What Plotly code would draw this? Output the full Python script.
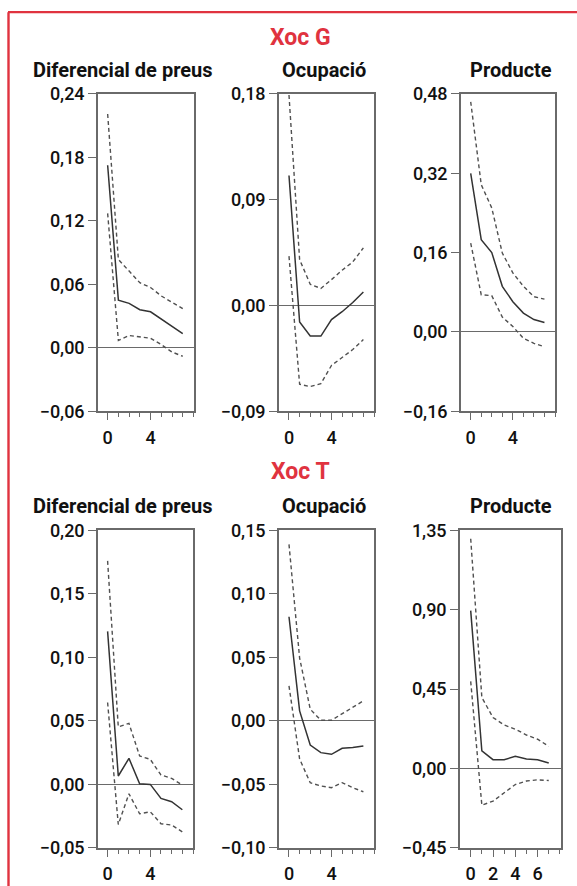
import plotly.graph_objects as go

# ---------------- data ----------------
horizon = [0, 1, 2, 3, 4, 5, 6, 7]

shock_titles = ["Xoc G", "Xoc T"]
panel_titles = ["Diferencial de preus", "Ocupació", "Producte"]

# Xoc G
g_preus_mid = [0.1725, 0.045, 0.042, 0.036, 0.034, 0.027, 0.020, 0.0135]
g_preus_hi = [0.221, 0.0835, 0.0725, 0.0615, 0.057, 0.049, 0.043, 0.037]
g_preus_lo = [0.127, 0.007, 0.0116, 0.010, 0.009, 0.003, -0.004, -0.008]

g_ocup_mid = [0.1105, -0.014, -0.026, -0.026, -0.012, -0.0053, 0.0025, 0.0115]
g_ocup_hi = [0.179, 0.039, 0.018, 0.0145, 0.022, 0.030, 0.037, 0.049]
g_ocup_lo = [0.042, -0.067, -0.069, -0.0665, -0.051, -0.044, -0.0375, -0.029]

g_prod_mid = [0.3195, 0.186, 0.160, 0.092, 0.061, 0.038, 0.025, 0.019]
g_prod_hi = [0.464, 0.297, 0.250, 0.159, 0.119, 0.092, 0.071, 0.066]
g_prod_lo = [0.179, 0.075, 0.073, 0.030, 0.011, -0.013, -0.023, -0.030]

# Xoc T
t_preus_mid = [0.1205, 0.0066, 0.0205, 0.0005, 0.0, -0.011, -0.0137, -0.020]
t_preus_hi = [0.176, 0.0453, 0.048, 0.0224, 0.0197, 0.0074, 0.0047, -0.0005]
t_preus_lo = [0.0645, -0.0316, -0.0074, -0.0232, -0.0216, -0.031, -0.032, -0.0374]

t_ocup_mid = [0.082, 0.0079, -0.019, -0.025, -0.0263, -0.0216, -0.021, -0.0197]
t_ocup_hi = [0.139, 0.0495, 0.0092, 0.0005, 0.0005, 0.0058, 0.0105, 0.0158]
t_ocup_lo = [0.0276, -0.030, -0.0487, -0.0513, -0.0526, -0.0487, -0.0526, -0.0558]

t_prod_mid = [0.895, 0.0995, 0.050, 0.050, 0.069, 0.054, 0.050, 0.031]
t_prod_hi = [1.303, 0.403, 0.289, 0.247, 0.223, 0.190, 0.166, 0.126]
t_prod_lo = [0.494, -0.208, -0.185, -0.138, -0.091, -0.071, -0.064, -0.068]

# y-axis tick values per panel
yticks_g_preus = [-0.06, 0.00, 0.06, 0.12, 0.18, 0.24]
yticks_g_ocup = [-0.09, 0.00, 0.09, 0.18]
yticks_g_prod = [-0.16, 0.00, 0.16, 0.32, 0.48]
yticks_t_preus = [-0.05, 0.00, 0.05, 0.10, 0.15, 0.20]
yticks_t_ocup = [-0.10, -0.05, 0.00, 0.05, 0.10, 0.15]
yticks_t_prod = [-0.45, 0.00, 0.45, 0.90, 1.35]

# x-axis labelled ticks
xticks_default = [0, 4]
xticks_prod_t = [0, 2, 4, 6]

# ---------------- layout helpers ----------------
W, H = 577, 886
FONT = "Roboto, Liberation Sans, sans-serif"
RED = "#e0333f"
AXC = "#6a6a6a"

# vertical calibration of the photographed page (measured with guide lines)
SY, OY = 0.975, 11.25


def px_x(p):
    return p / W


def px_y(o):
    p = (o - OY) / SY
    return 1 - p / H


panels = [
    (g_preus_mid, g_preus_hi, g_preus_lo, yticks_g_preus, xticks_default, (98, 194), (94, 411), [-0.9, 8.05]),
    (g_ocup_mid, g_ocup_hi, g_ocup_lo, yticks_g_ocup, xticks_default, (279, 374), (94, 411), [-0.94, 8.0]),
    (g_prod_mid, g_prod_hi, g_prod_lo, yticks_g_prod, xticks_default, (461, 555), (94, 411), [-0.92, 8.0]),
    (t_preus_mid, t_preus_hi, t_preus_lo, yticks_t_preus, xticks_default, (98, 193), (530, 847), [-0.9, 8.0]),
    (t_ocup_mid, t_ocup_hi, t_ocup_lo, yticks_t_ocup, xticks_default, (279, 374), (530, 847), [-0.94, 8.0]),
    (t_prod_mid, t_prod_hi, t_prod_lo, yticks_t_prod, xticks_prod_t, (460, 561), (530, 847), [-0.96, 8.1]),
]

fig = go.Figure()
layout = dict(
    width=W,
    height=H,
    margin=dict(l=0, r=0, t=0, b=0),
    paper_bgcolor="white",
    plot_bgcolor="white",
    showlegend=False,
    separators=",.",
    font=dict(family=FONT, size=18, color="#111"),
)

tickfont = dict(family=FONT, size=18, color="#111", weight=500)

for i, (mid, hi, lo, yt, xt, xp, yp, xr) in enumerate(panels):
    n = i + 1
    xa = "x" if n == 1 else f"x{n}"
    ya = "y" if n == 1 else f"y{n}"
    dash_style = dict(color="#505050", width=1.4, dash="4px,3px")
    fig.add_trace(go.Scatter(x=horizon, y=hi, mode="lines", line=dash_style, xaxis=xa, yaxis=ya))
    fig.add_trace(go.Scatter(x=horizon, y=lo, mode="lines", line=dash_style, xaxis=xa, yaxis=ya))
    fig.add_trace(go.Scatter(x=horizon, y=mid, mode="lines", line=dict(color="#333", width=1.5),
                             xaxis=xa, yaxis=ya))
    layout["xaxis" if n == 1 else f"xaxis{n}"] = dict(
        domain=[px_x(xp[0]), px_x(xp[1])], anchor=ya, range=xr,
        tickvals=xt, ticktext=[str(v) for v in xt],
        ticks="outside", ticklen=7, tickwidth=1.3, tickcolor=AXC,
        minor=dict(ticks="outside", ticklen=4, tickwidth=1.3, tickcolor=AXC, dtick=1, tick0=0),
        showline=True, linecolor=AXC, linewidth=1.6, mirror=True,
        showgrid=False, zeroline=False, tickfont=tickfont, ticklabelstandoff=2,
    )
    layout["yaxis" if n == 1 else f"yaxis{n}"] = dict(
        domain=[px_y(yp[1]), px_y(yp[0])], anchor=xa, range=[yt[0], yt[-1]],
        tickvals=yt, tickformat=".2f",
        ticks="outside", ticklen=8, tickwidth=1.3, tickcolor=AXC,
        showline=True, linecolor=AXC, linewidth=1.6, mirror=True, showgrid=False,
        zeroline=True, zerolinecolor=AXC, zerolinewidth=1.3, tickfont=tickfont,
    )

annotations = []
for title, ypix in zip(shock_titles, [38, 471]):
    annotations.append(dict(text=f"<b>{title}</b>", x=px_x(300), y=px_y(ypix), xref="paper", yref="paper",
                            showarrow=False, xanchor="center", yanchor="middle",
                            font=dict(family=FONT, size=23, color=RED)))
for ypix in [70, 506]:
    for title, xc in zip(panel_titles, [123, 324, 511]):
        annotations.append(dict(text=f"<b>{title}</b>", x=px_x(xc), y=px_y(ypix), xref="paper", yref="paper",
                                showarrow=False, xanchor="center", yanchor="middle",
                                font=dict(family=FONT, size=20, color="#111")))
layout["annotations"] = annotations

# red frame (top and left edges)
top_y = 1 - 1.2 / H
layout["shapes"] = [
    dict(type="line", xref="paper", yref="paper", x0=px_x(8), x1=1.02, y0=top_y, y1=top_y,
         line=dict(color=RED, width=2.4)),
    dict(type="line", xref="paper", yref="paper", x0=px_x(8.5), x1=px_x(8.5), y0=top_y, y1=-0.02,
         line=dict(color=RED, width=2.4)),
]

fig.update_layout(**layout)

page_css = (
    "document.documentElement.style.margin='0';"
    "document.documentElement.style.padding='0';"
    "document.documentElement.style.overflow='hidden';"
    "document.body.style.margin='0';"
    "document.body.style.padding='0';"
    "document.body.style.overflow='hidden';"
)
fig.write_html("out.html", post_script=page_css, config={"displayModeBar": False})
